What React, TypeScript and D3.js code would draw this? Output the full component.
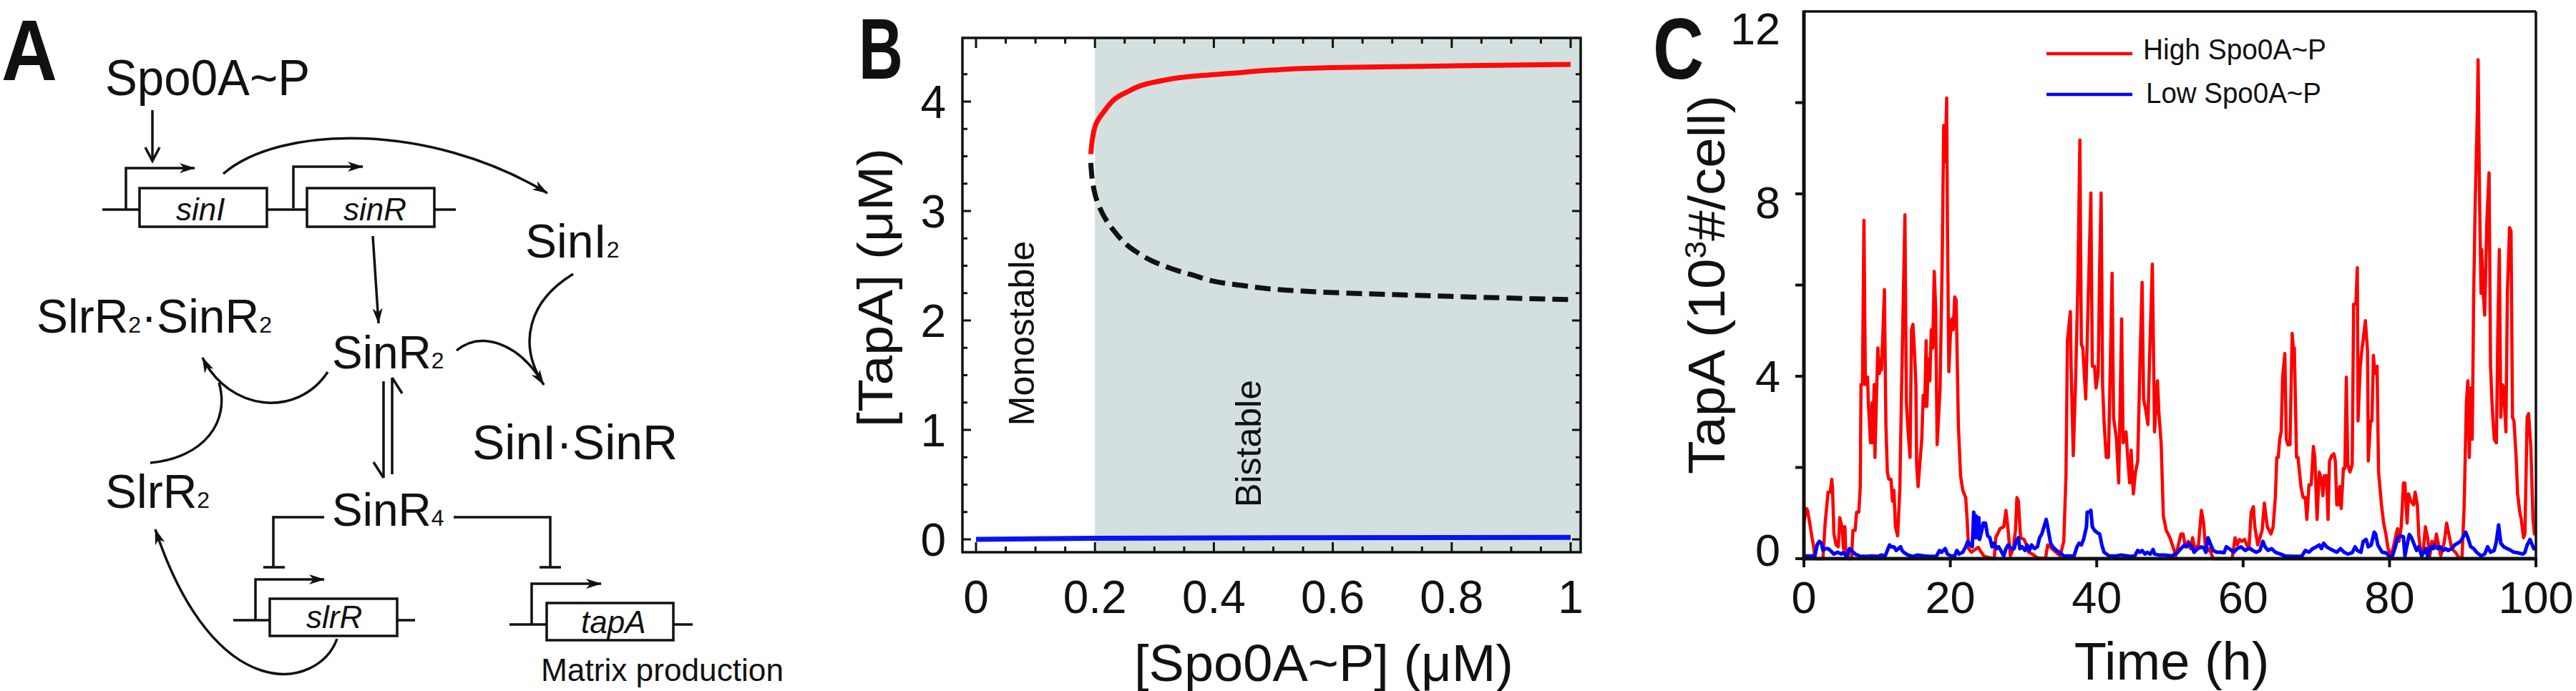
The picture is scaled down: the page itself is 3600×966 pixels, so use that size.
import React, { useEffect } from 'react';
import * as d3 from 'd3';

// ---------- Panel B data (bifurcation diagram) ----------
const bUpperX = [0.193, 0.2, 0.214, 0.251, 0.302, 0.361, 0.433, 0.506, 0.6, 0.726, 0.85, 1.0];
const bUpperY = [3.52, 3.77, 3.9, 4.08, 4.18, 4.23, 4.26, 4.29, 4.31, 4.32, 4.33, 4.34];
const bMiddleX = [0.193, 0.196, 0.203, 0.229, 0.266, 0.302, 0.361, 0.433, 0.579, 0.798, 1.0];
const bMiddleY = [3.44, 3.27, 3.1, 2.84, 2.64, 2.53, 2.42, 2.33, 2.26, 2.22, 2.19];
const bLowerX = [0, 0.2, 0.5, 1.0];
const bLowerY = [0.0, 0.01, 0.015, 0.018];
const bBistableStart = 0.2;
const bXTicks = [0, 0.2, 0.4, 0.6, 0.8, 1];
const bXTickLabels = ['0', '0.2', '0.4', '0.6', '0.8', '1'];
const bYTicks = [0, 1, 2, 3, 4];

// ---------- Panel C data (time series) ----------
const redT = [0,0.33,0.5,0.8,1.1,1.3,1.5,2.6,2.9,3.3,3.6,3.8,3.9,4.1,4.4,4.7,4.9,5.2,5.4,5.6,5.7,6.0,6.5,6.7,7.0,7.2,7.5,7.7,7.8,8.0,8.2,8.4,8.7,8.8,9.1,9.3,9.4,9.6,9.7,10.0,10.1,10.3,10.5,10.6,11.0,11.2,11.4,11.6,11.9,12.1,12.3,12.5,12.8,13.1,13.4,13.8,14.0,14.2,14.5,14.7,14.9,15.1,15.3,15.4,15.6,15.9,16.1,16.3,16.5,16.7,16.8,17.0,17.2,17.4,17.6,17.8,18.0,18.2,18.5,18.6,18.9,19.1,19.3,19.5,19.6,19.8,20.0,20.2,20.4,20.6,20.8,21.1,21.4,21.7,22.1,22.3,22.5,22.9,23.8,24.6,25.9,26.0,26.2,26.8,27.3,27.6,27.9,28.2,28.6,28.9,29.1,29.3,29.6,30.1,30.4,30.7,31.2,31.9,33.0,33.3,35.0,35.5,35.8,36.0,36.4,36.5,36.8,37.1,37.4,37.7,37.9,38.1,38.5,38.8,39.2,39.4,39.7,39.9,40.2,40.4,40.6,40.8,41.0,41.3,41.6,41.8,42.1,42.3,42.7,43.0,43.2,43.4,43.6,44.0,44.2,44.5,44.7,45.0,45.3,45.6,45.9,46.2,46.4,46.7,47.0,47.2,47.6,47.9,48.3,48.5,48.8,49.1,49.5,50.0,50.5,50.8,51.1,51.5,51.8,52.1,52.5,52.8,53.1,53.4,53.9,54.3,54.6,54.9,55.4,55.9,58.5,58.9,59.2,59.5,59.8,60.2,60.5,60.8,61.1,61.4,61.6,62.0,62.3,62.6,62.9,63.3,63.8,64.1,64.4,64.6,64.8,65.0,65.2,65.4,65.7,65.9,66.1,66.4,66.7,66.9,67.0,67.3,67.5,67.9,68.2,68.5,68.7,69.0,69.3,69.6,69.8,70.1,70.4,70.7,70.9,71.1,71.4,71.6,71.8,72.1,72.4,72.6,72.8,73.0,73.2,73.4,73.7,73.9,74.1,74.3,74.6,74.9,75.1,75.4,75.6,75.7,76.0,76.2,76.5,76.7,77.0,77.1,77.4,77.6,77.8,78.0,78.3,78.5,78.9,79.2,79.5,79.8,80.2,80.6,80.9,81.1,81.3,81.6,81.9,82.1,82.4,82.6,82.9,83.3,83.5,83.8,84.0,84.3,84.6,84.9,85.2,85.5,85.8,86.1,86.4,86.7,87.0,87.5,87.8,88.2,88.5,89.0,89.5,89.9,90.2,90.5,90.7,90.9,91.1,91.3,91.5,91.7,92.0,92.1,92.3,92.5,92.6,92.8,93.0,93.3,93.6,93.8,94.0,94.3,94.6,94.8,95.0,95.2,95.4,95.6,95.9,96.1,96.4,96.6,96.8,97.0,97.3,97.5,97.8,98.0,98.3,98.5,98.8,99.0,99.3,99.6,99.8,100];
const redV = [0.78,1.1,1.06,0.78,0.46,0.3,0,0,0.78,1.46,1.46,1.74,1.58,0.54,0.3,0.26,0.9,0.7,0.22,0.7,0.22,0,0,0.62,0.62,1.02,1.02,1.58,3.82,3.82,7.42,3.82,3.98,3.42,2.54,3.42,2.54,3.82,2.22,4.06,4.62,4.06,4.38,4.14,5.9,2.94,1.9,1.74,1.74,1.26,1.5,0.7,0.5,1.5,4.22,7.54,3.42,2.86,2.22,5.02,5.14,4.54,3.82,2.06,1.58,2.22,2.62,3.58,3.34,4.78,3.34,4.38,3.9,5.02,4.62,6.3,5.5,2.5,3.42,3.74,6.62,9.5,8.7,10.1,7.42,4.1,4.86,5.26,5.02,5.74,5.66,2.94,1.82,1.5,1.34,0.86,0.22,0.14,0.25,0.05,0,0,0.46,0.66,0.7,1.06,0.62,0.06,0.22,0.62,1.34,1.26,0.46,0.42,0.3,0.14,0.1,0.02,0,0.3,0.06,0.38,1.82,4.78,5.42,4.22,2.26,3.82,5.82,9.18,4.7,4.62,3.5,5.42,8.02,4.22,4.22,3.74,4.06,6.38,8.02,3.82,3.02,2.22,2.22,3.74,6.26,3.1,2.62,1.66,3.42,5.26,2.54,2.78,2.3,1.66,2.38,1.42,1.9,2.14,4.22,6.06,3.5,3.26,2.94,4.3,6.46,2.78,3.9,3.18,2.54,0.94,0.62,0.46,0.22,0.06,0.26,0.54,0.54,0.26,0.38,0.22,0.46,0.22,0.3,1.06,0.78,0.14,0.22,0,0,0.46,0.3,0.42,0.38,0.42,0.3,0.22,1.02,1.14,0.7,0.3,0.46,0.62,1.22,0.7,0.54,0.7,1.34,2.22,2.22,2.62,2.78,3.98,4.5,2.62,2.5,2.5,4.94,4.54,4.62,2.22,2.22,1.58,1.34,1.34,0.86,1.62,1.62,2.46,2.22,0.86,1.9,1.74,1.38,1.82,1.82,0.86,2.14,2.26,2.3,2.14,1.18,1.18,1.58,1.1,1.98,1.98,3.98,2.06,1.9,2.06,5.58,5.58,6.38,3.02,4.22,4.54,4.94,5.22,4.54,2.14,3.02,3.02,4.46,4.06,4.22,1.9,1.18,0.78,0.54,0.22,0.06,0.3,0.54,0.66,0.38,0.7,1.66,1.66,0.78,1.42,1.26,1.18,1.46,1.18,0.5,0.1,0.14,0.7,0.46,0.06,0.38,0.22,0.54,0.3,0.06,0.38,0.78,0.46,0.22,0.14,0.02,0,1.18,3.42,3.9,2.22,3.74,2.62,5.82,7.74,9.82,10.94,7.9,5.82,6.78,5.82,5.34,7.42,8.46,4.22,3.42,2.62,2.54,5.02,6.78,3.1,3.82,3.74,2.78,5.82,7.26,7.18,3.1,3.02,2.22,1.42,1.02,0.86,0.46,0.54,3.1,3.18,2.46,0.86,0.54,0.6];

const blueT = [0,1.5,1.8,2.1,2.4,2.6,2.9,3.3,3.6,4.1,4.6,5.1,5.4,5.9,6.2,6.5,7.0,7.7,8.7,9.3,10.1,10.6,11.1,11.4,11.7,11.9,12.3,12.6,12.9,13.2,13.4,13.7,14.2,14.9,15.5,16.5,17.2,18.1,18.5,18.8,19.3,19.6,20.1,20.6,20.9,21.2,21.7,22.1,22.4,22.7,23.0,23.2,23.4,23.5,23.7,23.9,24.0,24.3,24.5,24.8,25.1,25.4,25.7,26.0,26.3,26.6,26.9,27.3,27.6,27.9,28.3,28.7,29.0,29.3,29.5,29.8,30.2,30.5,30.8,31.1,31.5,31.9,32.2,32.5,32.8,33.1,33.3,33.7,34.0,34.5,35.0,35.5,36.9,37.3,37.6,37.9,38.2,38.6,38.7,39.0,39.2,39.4,39.7,40.0,40.4,40.7,41.0,41.7,42.6,43.3,44.6,45.2,45.6,45.9,46.2,46.6,46.9,47.3,47.7,47.9,48.5,49.3,50.3,51.0,51.5,52.0,52.3,52.6,53.0,53.3,53.8,54.3,54.7,54.9,55.2,55.6,55.9,56.4,56.9,57.4,57.7,58.2,58.7,59.2,59.7,60.0,60.3,60.7,61.0,61.3,61.8,62.3,62.7,63.0,63.4,63.9,64.4,65.1,65.7,66.7,68.0,68.5,69.0,69.5,70.0,70.4,70.7,71.0,71.4,71.8,72.3,72.8,73.3,73.8,74.3,74.9,75.3,75.6,76.1,76.4,76.8,77.1,77.5,77.9,78.1,78.4,78.7,79.0,79.5,80.0,80.4,80.8,81.1,81.5,81.9,82.1,82.5,82.7,83.0,83.4,83.7,84.0,84.4,84.7,85.0,85.2,85.6,85.9,86.2,86.6,86.9,87.3,87.7,88.0,88.5,88.9,89.3,89.7,90.0,90.4,90.7,91.1,91.5,91.9,92.5,93.0,93.4,93.8,94.3,94.6,94.9,95.2,95.6,96.1,96.6,97.0,97.5,98.2,98.5,98.8,99.2,99.5,99.7,100];
const blueV = [0.06,0.06,0.3,0.38,0.34,0.18,0.22,0.22,0.18,0.1,0.14,0.1,0.14,0.02,0.22,0.18,0.1,0.05,0.05,0.06,0.05,0.08,0.06,0.18,0.3,0.26,0.26,0.18,0.22,0.26,0.18,0.13,0.08,0.05,0.08,0.06,0.05,0.05,0.18,0.14,0.22,0.1,0.06,0.06,0.18,0.1,0.14,0.26,0.38,0.3,0.26,1.02,0.46,0.94,0.46,0.9,0.42,0.62,0.78,0.78,0.5,0.46,0.26,0.34,0.22,0.26,0.18,0.06,0.22,0.3,0.22,0.22,0.38,0.46,0.22,0.26,0.18,0.3,0.18,0.3,0.22,0.26,0.46,0.54,0.7,0.86,0.7,0.34,0.26,0.18,0.13,0.06,0.06,0.26,0.34,0.3,0.42,0.7,1.02,1.02,1.06,0.7,0.62,0.58,0.54,0.3,0.14,0.06,0.06,0.08,0.05,0.06,0.18,0.14,0.18,0.1,0.14,0.1,0.2,0.1,0.08,0.08,0.06,0.13,0.22,0.3,0.26,0.34,0.26,0.14,0.22,0.26,0.22,0.14,0.46,0.3,0.18,0.14,0.14,0.13,0.26,0.21,0.14,0.22,0.26,0.22,0.18,0.22,0.22,0.18,0.14,0.18,0.38,0.26,0.18,0.22,0.14,0.1,0.06,0.05,0.05,0.18,0.14,0.22,0.26,0.3,0.22,0.34,0.26,0.22,0.18,0.14,0.22,0.14,0.1,0.13,0.26,0.18,0.14,0.38,0.42,0.26,0.3,0.58,0.54,0.3,0.22,0.14,0.13,0.05,0.06,0.26,0.46,0.5,0.48,0.06,0.38,0.53,0.46,0.3,0.18,0.26,0.06,0.14,0.22,0.06,0.26,0.22,0.3,0.22,0.26,0.18,0.22,0.18,0.22,0.3,0.34,0.38,0.46,0.58,0.46,0.26,0.22,0.14,0.06,0.1,0.26,0.14,0.18,0.38,0.74,0.34,0.26,0.22,0.18,0.14,0.13,0.1,0.14,0.3,0.42,0.3,0.22,0.2];

const cXTicks = [0, 20, 40, 60, 80, 100];
const cYTicks = [0, 2, 4, 6, 8, 10, 12];
const cYLabels = [0, 4, 8, 12];
const cLegend = ['High Spo0A~P', 'Low Spo0A~P'];

const FONT = 'Liberation Sans, Arial, Helvetica, sans-serif';
const SW = 3.5;

export default function App() {
  useEffect(() => {
    document.body.style.margin = '0';
  }, []);

  // ----- Panel B scales -----
  const xB = d3.scaleLinear().domain([0, 1]).range([1364, 2195]);
  const yB = d3.scaleLinear().domain([0, 4]).range([754, 142]);
  const bFrame = { x0: 1345, x1: 2209, y0: 53, y1: 772 };
  const lineB = (xs: number[], ys: number[]) =>
    d3.line<number>().x((_, i) => xB(xs[i])).y((d) => yB(d)).curve(d3.curveMonotoneY)(ys) || '';
  const lineBx = (xs: number[], ys: number[]) =>
    d3.line<number>().x((_, i) => xB(xs[i])).y((d) => yB(d))(ys) || '';
  const bMinorX = d3.range(0, 1.0001, 0.05);
  const bMinorY = d3.range(0, 4.2501, 0.25);

  // ----- Panel C scales -----
  const xC = d3.scaleLinear().domain([0, 100]).range([2521, 3544]);
  const yC = d3.scaleLinear().domain([0, 12]).range([781, 16]);
  const yCLabel = d3.scaleLinear().domain([0, 12]).range([769, 40]);
  const lineC = (ts: number[], vs: number[]) =>
    d3.line<number>().x((_, i) => xC(ts[i])).y((d) => yC(d))(vs) || '';

  const sub = 32;

  return (
    <svg
      width={3600}
      height={966}
      viewBox="0 0 3600 966"
      style={{ display: 'block', position: 'absolute', left: 0, top: 0, background: '#fff' }}
      fontFamily={FONT}
    >
      <defs>
        <marker id="ah" viewBox="0 0 22 14" refX="21" refY="7" markerWidth="22" markerHeight="14" markerUnits="userSpaceOnUse" orient="auto">
          <path d="M0,0 L22,7 L0,14 L6,7 z" fill="#111" />
        </marker>
      </defs>
      <rect x={0} y={0} width={3600} height={966} fill="#fff" />

      {/* ================= Panel A ================= */}
      <g fill="#111" stroke="none">
        <text x={2} y={112} fontSize={121} fontWeight="bold" textLength={78} lengthAdjust="spacingAndGlyphs">A</text>
        <text x={147} y={133} fontSize={71} textLength={286} lengthAdjust="spacingAndGlyphs">Spo0A~P</text>
        <text x={734} y={360} fontSize={66}>SinI<tspan fontSize={sub}>2</tspan></text>
        <text x={51} y={465} fontSize={66}>SlrR<tspan fontSize={sub}>2</tspan>·SinR<tspan fontSize={sub}>2</tspan></text>
        <text x={464} y={515} fontSize={64}>SinR<tspan fontSize={sub}>2</tspan></text>
        <text x={660} y={642} fontSize={68}>SinI·SinR</text>
        <text x={147} y={710} fontSize={66}>SlrR<tspan fontSize={sub}>2</tspan></text>
        <text x={464} y={735} fontSize={64}>SinR<tspan fontSize={sub}>4</tspan></text>
        <text x={756} y={952} fontSize={44} textLength={339} lengthAdjust="spacingAndGlyphs">Matrix production</text>
      </g>
      <g fill="none" stroke="#111" strokeWidth={SW} strokeLinejoin="miter">
        {/* Spo0A arrow */}
        <path d="M213,154 V224" />
        <path d="M203,206 L213,225 L223,206" />
        {/* sinI / sinR operon */}
        <path d="M143,293 H195 M373,293 H429 M607,293 H637" />
        <rect x={195} y={263} width={178} height={54} fill="#fff" />
        <rect x={429} y={263} width={178} height={54} fill="#fff" />
        <path d="M176,293 V235 H272" markerEnd="url(#ah)" />
        <path d="M410,291 V233 H507" markerEnd="url(#ah)" />
        {/* curves */}
        <path d="M312,243 C390,175 600,170 765,270" markerEnd="url(#ah)" />
        <path d="M521,330 L529,452" markerEnd="url(#ah)" />
        <path d="M801,383 C740,420 722,480 760,538" markerEnd="url(#ah)" />
        <path d="M638,490 C672,462 720,480 752,525" />
        <path d="M458,520 C415,585 320,575 283,500" markerEnd="url(#ah)" />
        <path d="M210,647 C285,640 322,590 306,535" />
        {/* equilibrium */}
        <path d="M536,533 V668 M522,646 L536,668" />
        <path d="M548,663 V528 M562,550 L548,528" />
        {/* repression */}
        <path d="M453,723 H382 V793 M368,793 H398" />
        <path d="M634,723 H769 V793 M754,793 H784" />
        {/* slrR gene */}
        <path d="M326,867 H377 M555,867 H580" />
        <rect x={377} y={837} width={178} height={52} fill="#fff" />
        <path d="M357,867 V810 H453" markerEnd="url(#ah)" />
        <path d="M471,893 C445,965 300,990 217,740" markerEnd="url(#ah)" />
        {/* tapA gene */}
        <path d="M712,873 H764 M941,873 H968" />
        <rect x={764} y={843} width={177} height={52} fill="#fff" />
        <path d="M743,873 V816 H840" markerEnd="url(#ah)" />
      </g>
      <g fill="#111">
        <text x={246} y={308} fontSize={44} fontStyle="italic">sinI</text>
        <text x={480} y={308} fontSize={44} fontStyle="italic">sinR</text>
        <text x={428} y={878} fontSize={44} fontStyle="italic">slrR</text>
        <text x={812} y={885} fontSize={44} fontStyle="italic">tapA</text>
      </g>

      {/* ================= Panel B ================= */}
      <text x={1200} y={110} fontSize={121} fontWeight="bold" textLength={62} lengthAdjust="spacingAndGlyphs" fill="#111">B</text>
      <rect x={xB(bBistableStart)} y={bFrame.y0} width={bFrame.x1 - xB(bBistableStart)} height={bFrame.y1 - bFrame.y0} fill="#d4e0e0" />
      <g stroke="#111" strokeWidth={3}>
        {bMinorX.map((v, i) => {
          const major = bXTicks.some((t) => Math.abs(t - v) < 1e-6);
          const len = major ? 14 : 8;
          return (
            <g key={'bx' + i}>
              <line x1={xB(v)} x2={xB(v)} y1={bFrame.y1} y2={bFrame.y1 - len} />
              <line x1={xB(v)} x2={xB(v)} y1={bFrame.y0} y2={bFrame.y0 + len} />
            </g>
          );
        })}
        {bMinorY.map((v, i) => {
          const major = bYTicks.some((t) => Math.abs(t - v) < 1e-6);
          const len = major ? 12 : 7;
          return (
            <g key={'by' + i}>
              <line x1={bFrame.x0} x2={bFrame.x0 + len} y1={yB(v)} y2={yB(v)} />
              <line x1={bFrame.x1} x2={bFrame.x1 - len} y1={yB(v)} y2={yB(v)} />
            </g>
          );
        })}
      </g>
      <path d={lineBx(bLowerX, bLowerY)} fill="none" stroke="#0a14f0" strokeWidth={7} />
      <path d={lineB(bUpperX, bUpperY)} fill="none" stroke="#ff0a0a" strokeWidth={7} />
      <path d={lineB(bMiddleX, bMiddleY)} fill="none" stroke="#111" strokeWidth={7} strokeDasharray="22 10" />
      <rect x={bFrame.x0} y={bFrame.y0} width={bFrame.x1 - bFrame.x0} height={bFrame.y1 - bFrame.y0} fill="none" stroke="#111" strokeWidth={3.5} />
      <text transform="translate(1445,466) rotate(-90)" textAnchor="middle" fontSize={50} fill="#111">Monostable</text>
      <text transform="translate(1762,620) rotate(-90)" textAnchor="middle" fontSize={50} fill="#111">Bistable</text>
      <g fill="#111" fontSize={64}>
        {bXTicks.map((v, i) => (
          <text key={'bxl' + i} x={xB(v)} y={857} textAnchor="middle">{bXTickLabels[i]}</text>
        ))}
        {bYTicks.map((v) => (
          <text key={'byl' + v} x={1322} y={yB(v) + 23} textAnchor="end">{v}</text>
        ))}
      </g>
      <text x={1850} y={952} fontSize={72} textAnchor="middle" textLength={530} lengthAdjust="spacingAndGlyphs" fill="#111">[Spo0A~P] (μM)</text>
      <text transform="translate(1247,402) rotate(-90)" textAnchor="middle" fontSize={68} textLength={390} lengthAdjust="spacingAndGlyphs" fill="#111">[TapA] (μM)</text>

      {/* ================= Panel C ================= */}
      <text x={2310} y={110} fontSize={121} fontWeight="bold" textLength={71} lengthAdjust="spacingAndGlyphs" fill="#111">C</text>
      <path d={lineC(redT, redV)} fill="none" stroke="#ff0000" strokeWidth={4.5} strokeLinejoin="round" />
      <path d={lineC(blueT, blueV)} fill="none" stroke="#0000ff" strokeWidth={5} strokeLinejoin="round" />
      <g stroke="#111">
        <line x1={xC(0)} x2={xC(100)} y1={yC(12)} y2={yC(12)} strokeWidth={3.5} />
        <line x1={xC(100)} x2={xC(100)} y1={yC(12)} y2={yC(0)} strokeWidth={3.5} />
        <line x1={xC(0)} x2={xC(0)} y1={yC(12) - 1.5} y2={yC(0) + 2.5} strokeWidth={5} />
        <line x1={xC(0) - 2.5} x2={xC(100) + 1.5} y1={yC(0)} y2={yC(0)} strokeWidth={5} />
        {cYTicks.slice(0, -1).map((v) => (
          <line key={'cyt' + v} x1={xC(0) - 12} x2={xC(0)} y1={yC(v)} y2={yC(v)} strokeWidth={4} />
        ))}
        {cXTicks.map((v) => (
          <line key={'cxt' + v} x1={xC(v)} x2={xC(v)} y1={yC(0)} y2={yC(0) + 12} strokeWidth={4} />
        ))}
      </g>
      <g fill="#111" fontSize={63}>
        {cYLabels.map((v) => (
          <text key={'cyl' + v} x={2488} y={yCLabel(v)} dominantBaseline="central" textAnchor="end">{v}</text>
        ))}
        {cXTicks.map((v) => (
          <text key={'cxl' + v} x={xC(v)} y={857} textAnchor="middle">{v}</text>
        ))}
      </g>
      <text x={3035} y={950} fontSize={74} textAnchor="middle" fill="#111">Time (h)</text>
      <text transform="translate(2410,398) rotate(-90)" textAnchor="middle" fontSize={72} fill="#111" textLength={530} lengthAdjust="spacingAndGlyphs">
        TapA (10<tspan fontSize={42} dy={-26}>3</tspan><tspan dy={26}>#/cell)</tspan>
      </text>
      <line x1={2860} x2={2980} y1={75} y2={75} stroke="#ff0000" strokeWidth={4.5} />
      <line x1={2860} x2={2980} y1={132} y2={132} stroke="#0000ff" strokeWidth={4.5} />
      <text x={2995} y={83} fontSize={40} fill="#111" textLength={256} lengthAdjust="spacingAndGlyphs">{cLegend[0]}</text>
      <text x={2999} y={144} fontSize={40} fill="#111" textLength={245} lengthAdjust="spacingAndGlyphs">{cLegend[1]}</text>
    </svg>
  );
}
